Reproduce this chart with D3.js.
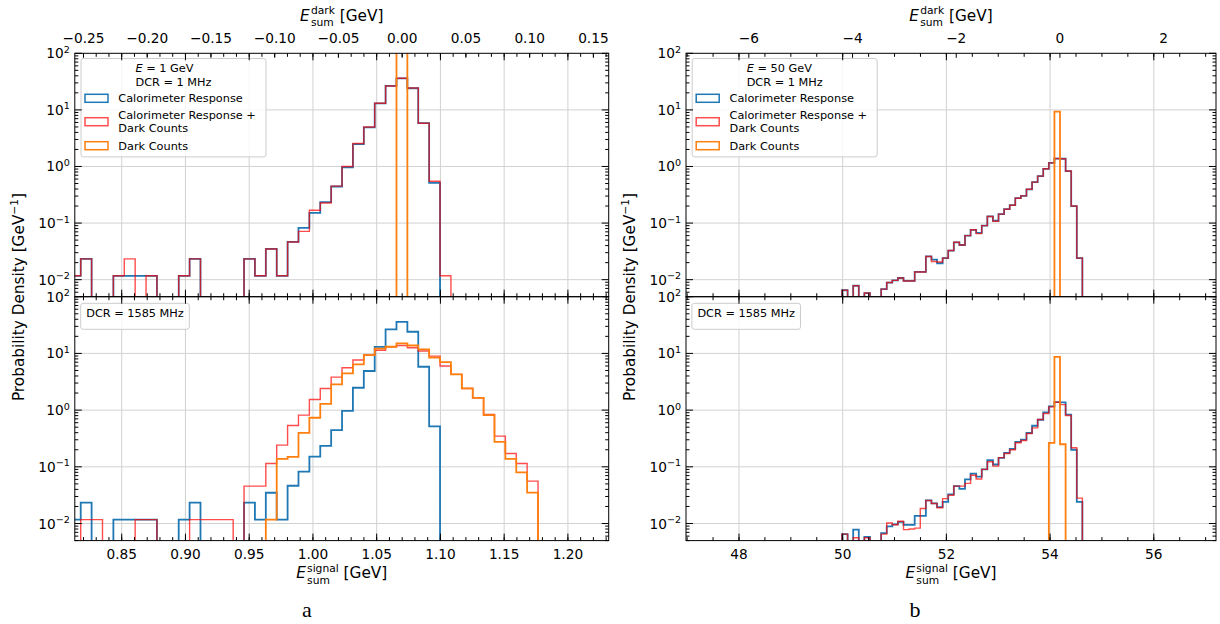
<!DOCTYPE html>
<html>
<head>
<meta charset="utf-8">
<script src="https://cdn.jsdelivr.net/npm/d3@7/dist/d3.min.js"></script>
<style>
html,body{margin:0;padding:0;background:#fff;}
svg{display:block;}
</style>
</head>
<body>
<svg id="chart" width="1220" height="624" xmlns="http://www.w3.org/2000/svg"></svg>
<script>
// ================= DATA =================
// Panel a (E = 1 GeV): regular histogram bins
const binStartA = 0.8093, binWidthA = 0.008541;
const caloA = [0.0117, 0.0233, 0, 0, 0.0117, 0.0117, 0.0117, 0.0117, 0, 0, 0.0117, 0.0233, 0, 0, 0, 0,
  0.0233, 0.0117, 0.0349, 0.0117, 0.0464, 0.082, 0.151, 0.235, 0.443, 0.97, 2.48, 4.9, 13.0, 26.5, 36.0,
  24.1, 5.82, 0.515, 0, 0, 0, 0, 0, 0, 0, 0, 0, 0];
const caloDarkA1 = [0.0117, 0.0233, 0, 0, 0.0117, 0.0233, 0, 0.0117, 0, 0, 0.0117, 0.0233, 0, 0, 0, 0,
  0.0233, 0.0117, 0.0349, 0.0117, 0.0464, 0.0714, 0.168, 0.226, 0.45, 1.0, 2.55, 5.0, 13.1, 26.5, 36.2,
  24.3, 5.8, 0.55, 0.0117, 0, 0, 0, 0, 0, 0, 0, 0, 0];
const darkA1 = [0, 0, 0, 0, 0, 0, 0, 0, 0, 0, 0, 0, 0, 0, 0, 0, 0, 0, 0, 0, 0, 0, 0, 0, 0, 0, 0, 0, 0, 0,
  117, 0, 0, 0, 0, 0, 0, 0, 0, 0, 0, 0, 0, 0];
const caloDarkA1585 = [0, 0.0117, 0.0117, 0, 0, 0, 0.0117, 0.0117, 0, 0, 0, 0.0117, 0.0117, 0.0117, 0.0117, 0,
  0.0456, 0.0456, 0.1145, 0.241, 0.536, 0.816, 1.54, 2.41, 3.82, 5.59, 7.63, 9.35, 11.4, 13.1, 13.8,
  12.6, 11.0, 8.97, 5.98, 4.26, 2.41, 1.65, 0.84, 0.348, 0.172, 0.1145, 0.0559, 0];
const darkA1585 = [0, 0, 0, 0, 0, 0, 0, 0, 0, 0, 0, 0, 0, 0, 0, 0, 0, 0,
  0.0117, 0.138, 0.15, 0.398, 0.733, 1.29, 2.84, 4.44, 6.4, 9.35, 12.1, 13.1, 15.0,
  13.8, 11.8, 8.4, 7.0, 4.26, 2.41, 1.65, 0.816, 0.276, 0.138, 0.08, 0.035, 0];

// Panel b (E = 50 GeV)
const binStartB = 49.987, binWidthB = 0.10781;
const caloB = [0.0065, 0, 0.0078, 0, 0.0058, 0, 0, 0.0068, 0.0089, 0.0097, 0.0107, 0.0095, 0.0095, 0.0137,
  0.0137, 0.0257, 0.0226, 0.0195, 0.024, 0.0327, 0.0457, 0.041, 0.06, 0.076, 0.067, 0.09, 0.131, 0.11,
  0.144, 0.176, 0.207, 0.275, 0.302, 0.395, 0.53, 0.676, 0.91, 1.16, 1.38, 1.37, 0.83, 0.20, 0.024];
const caloDarkB1 = [0.0065, 0, 0.0078, 0, 0.0058, 0, 0, 0.0068, 0.0089, 0.0097, 0.0107, 0.0095, 0.0095, 0.0137,
  0.0137, 0.0257, 0.021, 0.0205, 0.024, 0.0327, 0.0457, 0.041, 0.06, 0.076, 0.065, 0.09, 0.131, 0.108,
  0.144, 0.176, 0.207, 0.275, 0.302, 0.395, 0.53, 0.676, 0.91, 1.16, 1.38, 1.37, 0.83, 0.20, 0.024];
const darkB1 = [0, 0, 0, 0, 0, 0, 0, 0, 0, 0, 0, 0, 0, 0, 0, 0, 0, 0, 0, 0, 0, 0, 0, 0, 0, 0, 0, 0,
  0, 0, 0, 0, 0, 0, 0, 0, 0, 0, 9.3, 0, 0, 0, 0];
const caloDarkB1585 = [0.0065, 0, 0.0056, 0, 0.0056, 0, 0, 0.0065, 0.0102, 0.0095, 0.011, 0.0078, 0.008, 0.0083,
  0.0184, 0.0255, 0.0226, 0.019, 0.0275, 0.0316, 0.0456, 0.0456, 0.051, 0.071, 0.061, 0.09, 0.123, 0.103,
  0.145, 0.172, 0.2, 0.265, 0.292, 0.387, 0.486, 0.685, 0.87, 1.14, 1.38, 1.25, 0.805, 0.217, 0.028];
const darkB1585 = [0, 0, 0, 0, 0, 0, 0, 0, 0, 0, 0, 0, 0, 0, 0, 0, 0, 0, 0, 0, 0, 0, 0, 0, 0, 0, 0, 0,
  0, 0, 0, 0, 0, 0, 0, 0, 0, 0.265, 8.7, 0.25, 0, 0, 0];

// Axes / tick labels
const xDomainA = [0.8132, 1.232];
const xTicksA = [0.85, 0.90, 0.95, 1.00, 1.05, 1.10, 1.15, 1.20];
const darkOffsetA = 1.07;
const darkTicksA = [-0.25, -0.20, -0.15, -0.10, -0.05, 0.00, 0.05, 0.10, 0.15];
const xDomainB = [46.978, 57.2];
const xTicksB = [48, 50, 52, 54, 56];
const darkOffsetB = 54.19;
const darkTicksB = [-6, -4, -2, 0, 2];
const yTickValues = [1e-2, 1e-1, 1e0, 1e1, 1e2];
const yTickExp = ['\u22122', '\u22121', '0', '1', '2'];
const yDomain = [0.005, 100];
const seriesNames = ['Calorimeter Response', 'Calorimeter Response +\nDark Counts', 'Dark Counts'];

// ================= DRAWING =================
const svg = d3.select('#chart');
const FONT = "'DejaVu Sans', sans-serif";
const C_BLUE = '#1f77b4', C_RED = '#ff0000', C_ORANGE = '#ff7f0e';
const FS_TICK = 13.7, FS_LABEL = 15.3, FS_LEG = 11.3;
let clipCount = 0;

function makeEdges(start, width, n) { return d3.range(n + 1).map(i => start + i * width); }
function ticksBetween(lo, hi, step) {
  const out = [];
  const k0 = Math.ceil(lo / step - 1e-9), k1 = Math.floor(hi / step + 1e-9);
  for (let k = k0; k <= k1; k++) out.push(+(k * step).toFixed(6));
  return out;
}
function fmt(v, dec) { const s = v.toFixed(dec); return s[0] === '-' ? '\u2212' + s.slice(1) : s; }

function histPath(xs, ys, edges, vals, floorY) {
  const yy = v => v > 0 ? ys(v) : floorY;
  const pts = [[xs(edges[0]), floorY]];
  vals.forEach((v, i) => { pts.push([xs(edges[i]), yy(v)]); pts.push([xs(edges[i + 1]), yy(v)]); });
  pts.push([xs(edges[vals.length]), floorY]);
  return d3.line()(pts);
}

function eLabel(g, cx, baseY, sup, sub) {
  const fs = FS_LABEL, sfs = fs * 0.7;
  const grp = g.append('g');
  const E = grp.append('text').attr('x', 0).attr('y', 0).attr('font-family', FONT).attr('font-size', fs)
    .attr('font-style', 'italic').text('E');
  const wE = E.node().getComputedTextLength() + 1.2;
  const sp = grp.append('text').attr('x', wE).attr('y', -fs * 0.42).attr('font-family', FONT).attr('font-size', sfs).text(sup);
  const sb = grp.append('text').attr('x', wE).attr('y', fs * 0.36).attr('font-family', FONT).attr('font-size', sfs).text(sub);
  const ws = Math.max(sp.node().getComputedTextLength(), sb.node().getComputedTextLength());
  const rest = grp.append('text').attr('x', wE + ws).attr('y', 0).attr('font-family', FONT).attr('font-size', fs).text('\u00a0[GeV]');
  const total = wE + ws + rest.node().getComputedTextLength();
  grp.attr('transform', `translate(${cx - total / 2},${baseY})`);
}

function legend(g, x0, y0, big, energyText) {
  if (big) {
    const bx = x0 + 6.2, by = y0 + 5.2, bw = 185, bh = 98.4;
    g.append('rect').attr('x', bx).attr('y', by).attr('width', bw).attr('height', bh).attr('rx', 2.5)
      .attr('fill', '#fff').attr('fill-opacity', 0.8).attr('stroke', '#cccccc').attr('stroke-width', 1);
    // title (block centred, lines left aligned)
    const t1 = g.append('text').attr('y', y0 + 19).attr('font-family', FONT).attr('font-size', FS_LEG);
    t1.append('tspan').attr('font-style', 'italic').text('E');
    t1.append('tspan').text(' = ' + energyText);
    const t2 = g.append('text').attr('y', y0 + 32.4).attr('font-family', FONT).attr('font-size', FS_LEG).text('DCR = 1 MHz');
    const w = Math.max(t1.node().getComputedTextLength(), t2.node().getComputedTextLength());
    const tx = bx + bw / 2 - w / 2;
    t1.attr('x', tx); t2.attr('x', tx);
    const entries = [
      { color: C_BLUE, op: 1, cy: 45, lines: seriesNames[0].split('\n'), ty: [49] },
      { color: C_RED, op: 0.7, cy: 68.4, lines: seriesNames[1].split('\n'), ty: [65.7, 79] },
      { color: C_ORANGE, op: 1, cy: 92.4, lines: seriesNames[2].split('\n'), ty: [96.4] }
    ];
    entries.forEach(e => {
      g.append('rect').attr('x', x0 + 10.2).attr('y', y0 + e.cy - 4).attr('width', 23).attr('height', 8)
        .attr('fill', 'none').attr('stroke', e.color).attr('stroke-opacity', e.op).attr('stroke-width', 1.5);
      e.lines.forEach((ln, i) => {
        g.append('text').attr('x', x0 + 43.5).attr('y', y0 + e.ty[i]).attr('font-family', FONT)
          .attr('font-size', FS_LEG).attr('fill', '#000').text(ln);
      });
    });
  } else {
    const bx = x0 + 5.9, by = y0 + 6.6, bw = 108.6, bh = 26;
    g.append('rect').attr('x', bx).attr('y', by).attr('width', bw).attr('height', bh).attr('rx', 2.5)
      .attr('fill', '#fff').attr('fill-opacity', 0.8).attr('stroke', '#cccccc').attr('stroke-width', 1);
    g.append('text').attr('x', bx + bw / 2).attr('y', y0 + 20.6).attr('text-anchor', 'middle')
      .attr('font-family', FONT).attr('font-size', FS_LEG).text('DCR = 1585 MHz');
  }
}

function panel(o) {
  const { x0, x1, y0, y1 } = o;
  const xs = d3.scaleLinear().domain(o.xDomain).range([x0, x1]);
  const ys = d3.scaleLog().domain(yDomain).range([y1, y0]);
  const g = svg.append('g');
  // grid
  g.selectAll(null).data(o.xTicks).join('line')
    .attr('x1', d => xs(d)).attr('x2', d => xs(d)).attr('y1', y0).attr('y2', y1)
    .attr('stroke', '#d2d2d2').attr('stroke-width', 1);
  g.selectAll(null).data(yTickValues.slice(0, 4)).join('line')
    .attr('x1', x0).attr('x2', x1).attr('y1', d => ys(d)).attr('y2', d => ys(d))
    .attr('stroke', '#d2d2d2').attr('stroke-width', 1);
  // histograms
  const id = 'clip' + (clipCount++);
  svg.append('clipPath').attr('id', id).append('rect')
    .attr('x', x0).attr('y', y0).attr('width', x1 - x0).attr('height', y1 - y0);
  const hg = g.append('g').attr('clip-path', `url(#${id})`);
  o.series.forEach(s => {
    hg.append('path').attr('d', histPath(xs, ys, o.edges, s.values, y1 + 20))
      .attr('fill', 'none').attr('stroke', s.color).attr('stroke-opacity', s.op)
      .attr('stroke-width', s.w).attr('stroke-linejoin', 'miter');
  });
  // legend
  legend(g, x0, y0, o.bigLegend, o.energyText);
  // spines
  g.append('rect').attr('x', x0).attr('y', y0).attr('width', x1 - x0).attr('height', y1 - y0)
    .attr('fill', 'none').attr('stroke', '#000').attr('stroke-width', 1);
  // x ticks (signal axis) on bottom and top spines, inward
  const tk = g.append('g').attr('stroke', '#000').attr('stroke-width', 1);
  const xMin = ticksBetween(o.xDomain[0], o.xDomain[1], o.xMinorStep);
  const xMaj = ticksBetween(o.xDomain[0], o.xDomain[1], o.xMajorStep);
  [[y1, -1], [y0, 1]].forEach(([yy, dir]) => {
    tk.selectAll(null).data(xMin).join('line').attr('x1', d => xs(d)).attr('x2', d => xs(d))
      .attr('y1', yy).attr('y2', yy + dir * 3.5);
    tk.selectAll(null).data(xMaj).join('line').attr('x1', d => xs(d)).attr('x2', d => xs(d))
      .attr('y1', yy).attr('y2', yy + dir * 7);
  });
  // y ticks on left/right spines
  const yMinor = [];
  for (let d = -3; d <= 1; d++) for (let m = 2; m <= 9; m++) {
    const v = m * Math.pow(10, d);
    if (v >= yDomain[0] * 0.999 && v <= yDomain[1]) yMinor.push(v);
  }
  [[x0, 1], [x1, -1]].forEach(([xx, dir]) => {
    tk.selectAll(null).data(yMinor).join('line').attr('y1', d => ys(d)).attr('y2', d => ys(d))
      .attr('x1', xx).attr('x2', xx + dir * 3.5);
    tk.selectAll(null).data(yTickValues).join('line').attr('y1', d => ys(d)).attr('y2', d => ys(d))
      .attr('x1', xx).attr('x2', xx + dir * 7);
  });
  // y tick labels
  yTickValues.forEach((v, i) => {
    const t = g.append('text').attr('x', x0 - 5).attr('y', ys(v) + 5).attr('text-anchor', 'end')
      .attr('font-family', FONT).attr('font-size', FS_TICK);
    t.append('tspan').text('10');
    t.append('tspan').attr('dy', -5.5).attr('font-size', FS_TICK * 0.7).text(yTickExp[i]);
  });
  if (o.top) {
    // secondary dark axis
    tk.selectAll(null).data(o.darkTicks).join('line')
      .attr('x1', d => xs(d + o.darkOffset)).attr('x2', d => xs(d + o.darkOffset))
      .attr('y1', y0).attr('y2', y0 + 4.5);
    g.selectAll(null).data(o.darkTicks).join('text')
      .attr('x', d => xs(d + o.darkOffset)).attr('y', y0 - 10).attr('text-anchor', 'middle')
      .attr('font-family', FONT).attr('font-size', FS_TICK).text(d => fmt(d, o.darkDec));
    eLabel(g, (x0 + x1) / 2, 20.8, 'dark', 'sum');
  } else {
    g.selectAll(null).data(o.xTicks).join('text')
      .attr('x', d => xs(d)).attr('y', y1 + 18.4).attr('text-anchor', 'middle')
      .attr('font-family', FONT).attr('font-size', FS_TICK).text(d => fmt(d, o.xDec));
    eLabel(g, (x0 + x1) / 2, 578, 'signal', 'sum');
  }
}

const edgesA = makeEdges(binStartA, binWidthA, caloA.length);
const edgesB = makeEdges(binStartB, binWidthB, caloB.length);
const PX = { A: [74.8, 608.7], B: [686, 1216] };
const PY = { top: [53.3, 296.7], bot: [296.7, 540.6] };

function mkSeries(calo, caloDark, dark) {
  return [
    { values: calo, color: C_BLUE, op: 1, w: 1.8 },
    { values: caloDark, color: C_RED, op: 0.7, w: 1.4 },
    { values: dark, color: C_ORANGE, op: 1, w: 1.8 }
  ];
}

panel({ x0: PX.A[0], x1: PX.A[1], y0: PY.top[0], y1: PY.top[1], xDomain: xDomainA, xTicks: xTicksA,
  xMajorStep: 0.05, xMinorStep: 0.01, xDec: 2, edges: edgesA, top: true, darkTicks: darkTicksA,
  darkOffset: darkOffsetA, darkDec: 2, bigLegend: true, energyText: '1 GeV',
  series: mkSeries(caloA, caloDarkA1, darkA1) });
panel({ x0: PX.A[0], x1: PX.A[1], y0: PY.bot[0], y1: PY.bot[1], xDomain: xDomainA, xTicks: xTicksA,
  xMajorStep: 0.05, xMinorStep: 0.01, xDec: 2, edges: edgesA, top: false, bigLegend: false,
  series: mkSeries(caloA, caloDarkA1585, darkA1585) });
panel({ x0: PX.B[0], x1: PX.B[1], y0: PY.top[0], y1: PY.top[1], xDomain: xDomainB, xTicks: xTicksB,
  xMajorStep: 2, xMinorStep: 0.5, xDec: 0, edges: edgesB, top: true, darkTicks: darkTicksB,
  darkOffset: darkOffsetB, darkDec: 0, bigLegend: true, energyText: '50 GeV',
  series: mkSeries(caloB, caloDarkB1, darkB1) });
panel({ x0: PX.B[0], x1: PX.B[1], y0: PY.bot[0], y1: PY.bot[1], xDomain: xDomainB, xTicks: xTicksB,
  xMajorStep: 2, xMinorStep: 0.5, xDec: 0, edges: edgesB, top: false, bigLegend: false,
  series: mkSeries(caloB, caloDarkB1585, darkB1585) });

// y axis titles
[[23.5, 297], [635, 297]].forEach(([x, y]) => {
  const t = svg.append('text').attr('transform', `translate(${x},${y}) rotate(-90)`).attr('text-anchor', 'middle')
    .attr('font-family', FONT).attr('font-size', FS_LABEL);
  t.append('tspan').text('Probability Density [GeV');
  t.append('tspan').attr('dy', -6).attr('font-size', FS_LABEL * 0.7).text('\u22121');
  t.append('tspan').attr('dy', 6).text(']');
});

// sub-figure captions
svg.append('text').attr('x', 307).attr('y', 617).attr('text-anchor', 'middle')
  .attr('font-family', "'Liberation Serif', serif").attr('font-size', 22).text('a');
svg.append('text').attr('x', 915).attr('y', 617).attr('text-anchor', 'middle')
  .attr('font-family', "'Liberation Serif', serif").attr('font-size', 22).text('b');
</script>
</body>
</html>
